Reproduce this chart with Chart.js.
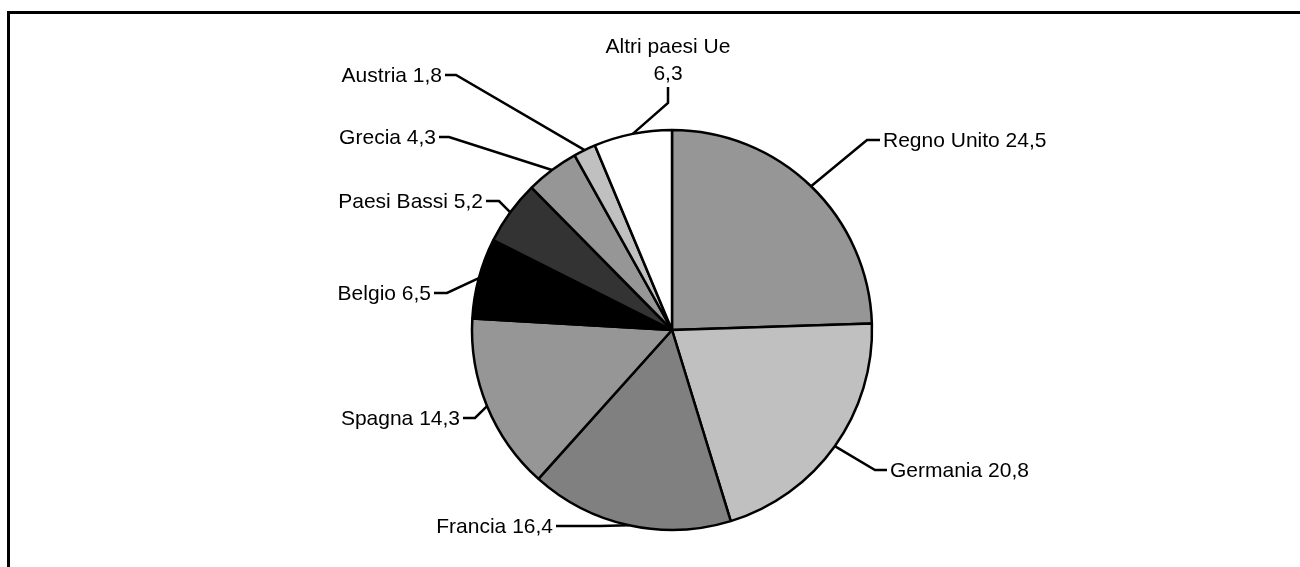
<!DOCTYPE html>
<html>
<head>
<meta charset="utf-8">
<script src="https://cdn.jsdelivr.net/npm/chart.js@4.4.0/dist/chart.umd.min.js"></script>
<style>
    html, body { margin: 0; padding: 0; background: #fff; }
    #wrap { position: relative; width: 1300px; height: 567px; }
    #frame { position: absolute; left: 7px; top: 11px; right: 0; bottom: -5px;
             border-left: 3px solid #000; border-top: 3px solid #000; }
    #chart { position: absolute; left: 0; top: 0; }
</style>
</head>
<body>
<div id="wrap">
    <div id="frame"></div>
    <canvas id="chart" width="1300" height="567"></canvas>
</div>

<script>
    // quote per paese (%), in senso orario dalle ore 12
    var paesi = ['Regno Unito', 'Germania', 'Francia', 'Spagna', 'Belgio',
                 'Paesi Bassi', 'Grecia', 'Austria', 'Altri paesi Ue'];
    var quote = [24.5, 20.8, 16.4, 14.3, 6.5, 5.2, 4.3, 1.8, 6.3];
    var colori = ['#969696', '#c0c0c0', '#808080', '#969696', '#000000',
                  '#333333', '#969696', '#c0c0c0', '#ffffff'];

    // label placement, px relative to pie centre: elbow and line end
    var etichette = [
        { elbow: [195, -190], end: [208, -190], align: 'left' },
        { elbow: [203, 140],  end: [215, 140],  align: 'left' },
        { elbow: [-72, 196],  end: [-116, 196], align: 'right' },
        { elbow: [-197, 88],  end: [-209, 88],  align: 'right' },
        { elbow: [-225, -37], end: [-238, -37], align: 'right' },
        { elbow: [-173, -129], end: [-186, -129], align: 'right' },
        { elbow: [-223, -193], end: [-233, -193], align: 'right' },
        { elbow: [-216, -255], end: [-227, -255], align: 'right' },
        { elbow: [-4, -227],  end: [-4, -243],  align: 'top' }
    ];

    function fmt(v) {
        return v.toFixed(1).replace('.', ',');
    }

    var leaderLabels = {
        id: 'leaderLabels',
        afterDatasetsDraw: function(chart) {
            var ctx = chart.ctx;
            var meta = chart.getDatasetMeta(0);
            ctx.save();
            ctx.strokeStyle = '#000';
            ctx.lineWidth = 2.5;
            ctx.fillStyle = '#000';
            ctx.font = '21px "Liberation Sans", Arial, sans-serif';
            meta.data.forEach(function(arc, i) {
                var p = arc.getProps(['x', 'y', 'startAngle', 'endAngle', 'outerRadius'], true);
                var mid = (p.startAngle + p.endAngle) / 2;
                var ax = p.x + Math.cos(mid) * p.outerRadius;
                var ay = p.y + Math.sin(mid) * p.outerRadius;
                var e = etichette[i];
                var ex = p.x + e.elbow[0], ey = p.y + e.elbow[1];
                var tx = p.x + e.end[0], ty = p.y + e.end[1];
                ctx.beginPath();
                ctx.moveTo(ax, ay);
                ctx.lineTo(ex, ey);
                ctx.lineTo(tx, ty);
                ctx.stroke();

                var txt = paesi[i] + ' ' + fmt(quote[i]);
                ctx.textBaseline = 'middle';
                if (e.align === 'left') {
                    ctx.textAlign = 'left';
                    ctx.fillText(txt, tx + 3, ty + 1);
                } else if (e.align === 'right') {
                    ctx.textAlign = 'right';
                    ctx.fillText(txt, tx - 3, ty + 1);
                } else {
                    ctx.textAlign = 'center';
                    ctx.fillText(fmt(quote[i]), tx, ty - 13);
                    ctx.fillText(paesi[i], tx, ty - 40);
                }
            });
            ctx.restore();
        }
    };

    var ctx = document.getElementById('chart');
    var myPie = new Chart(ctx, {
        type: 'pie',
        data: {
            labels: paesi,
            datasets: [{
                data: quote,
                backgroundColor: colori,
                borderColor: '#000',
                borderWidth: 2.5,
                radius: 200
            }]
        },
        options: {
            responsive: false,
            animation: false,
            layout: { padding: { left: 344, right: 300, top: 113, bottom: 20 } },
            plugins: {
                legend: { display: false },
                tooltip: { enabled: false }
            }
        },
        plugins: [leaderLabels]
    });
</script>
</body>
</html>
